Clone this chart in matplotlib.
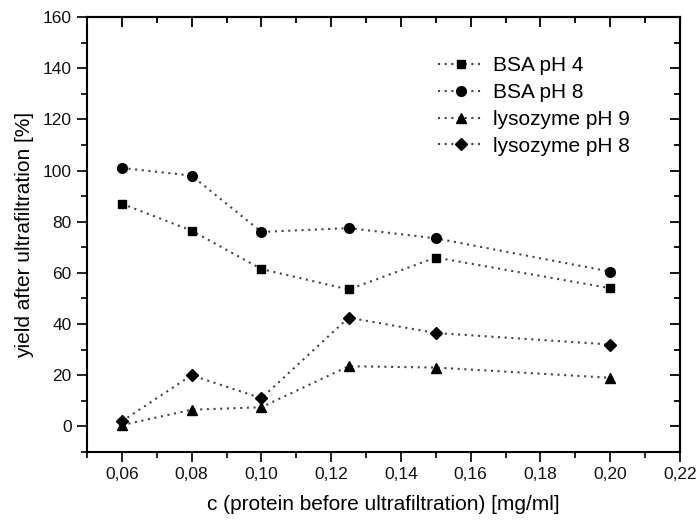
import matplotlib
matplotlib.use("Agg")
import matplotlib.pyplot as plt
from matplotlib.ticker import MultipleLocator, FuncFormatter

plt.rcParams['font.family'] = ['Liberation Sans', 'DejaVu Sans']

# Data
conc = [0.06, 0.08, 0.10, 0.125, 0.15, 0.20]
bsa_ph4 = [87, 76.5, 61.5, 53.5, 66, 54]
bsa_ph8 = [101, 98, 76, 77.5, 73.5, 60.5]
lys_ph9 = [0.5, 6.5, 7.5, 23.5, 23, 19]
lys_ph8 = [2, 20, 11, 42.5, 36.5, 32]

series = [
    (bsa_ph4, 's', 6.0, 'BSA pH 4'),
    (bsa_ph8, 'o', 7.0, 'BSA pH 8'),
    (lys_ph9, '^', 7.5, 'lysozyme pH 9'),
    (lys_ph8, 'D', 6.0, 'lysozyme pH 8'),
]

fig = plt.figure(figsize=(6.97, 5.23), dpi=100)
ax = fig.add_axes([0.1248, 0.1358, 0.8508, 0.8317])

for ys, mk, ms, lab in series:
    ax.plot(conc, ys, linestyle=(0, (1.0, 2.2)), color='#444444', lw=1.5,
            marker=mk, markersize=ms, markerfacecolor='black',
            markeredgecolor='black', label=lab)

ax.set_xlim(0.05, 0.22)
ax.set_ylim(-10, 160)
ax.set_xticks([0.06, 0.08, 0.10, 0.12, 0.14, 0.16, 0.18, 0.20, 0.22])
ax.set_yticks(range(0, 161, 20))
ax.xaxis.set_minor_locator(MultipleLocator(0.01))
ax.yaxis.set_minor_locator(MultipleLocator(10))
ax.xaxis.set_major_formatter(FuncFormatter(lambda v, p: f"{v:.2f}".replace('.', ',')))

ax.tick_params(which='both', direction='out', top=False, right=False,
               labelsize=12.5, width=1.3, colors='#111111')
ax.tick_params(which='major', length=7, pad=4)
ax.tick_params(which='minor', length=4)

# inward ticks on top and right
sec_x = ax.secondary_xaxis('top')
sec_x.set_xticks(ax.get_xticks())
sec_x.xaxis.set_minor_locator(MultipleLocator(0.01))
sec_x.tick_params(which='both', direction='in', labeltop=False, width=1.3)
sec_x.tick_params(which='major', length=7)
sec_x.tick_params(which='minor', length=4)
sec_y = ax.secondary_yaxis('right')
sec_y.set_yticks(range(0, 161, 20))
sec_y.yaxis.set_minor_locator(MultipleLocator(10))
sec_y.tick_params(which='both', direction='in', labelright=False, width=1.3)
sec_y.tick_params(which='major', length=7)
sec_y.tick_params(which='minor', length=4)

for s in ax.spines.values():
    s.set_linewidth(1.5)
sec_x.spines['top'].set_linewidth(1.5)
sec_y.spines['right'].set_linewidth(1.5)

ax.set_xlabel('c (protein before ultrafiltration) [mg/ml]', fontsize=15, labelpad=9)
ax.set_ylabel('yield after ultrafiltration [%]', fontsize=15, labelpad=6)

ax.legend(loc='upper left', bbox_to_anchor=(438 / 697, 1 - 56 / 523),
          bbox_transform=fig.transFigure, frameon=False, borderpad=0,
          borderaxespad=0, fontsize=15, handlelength=2.2, handletextpad=0.45,
          labelspacing=0.38)

fig.savefig('out.png', dpi=100)
